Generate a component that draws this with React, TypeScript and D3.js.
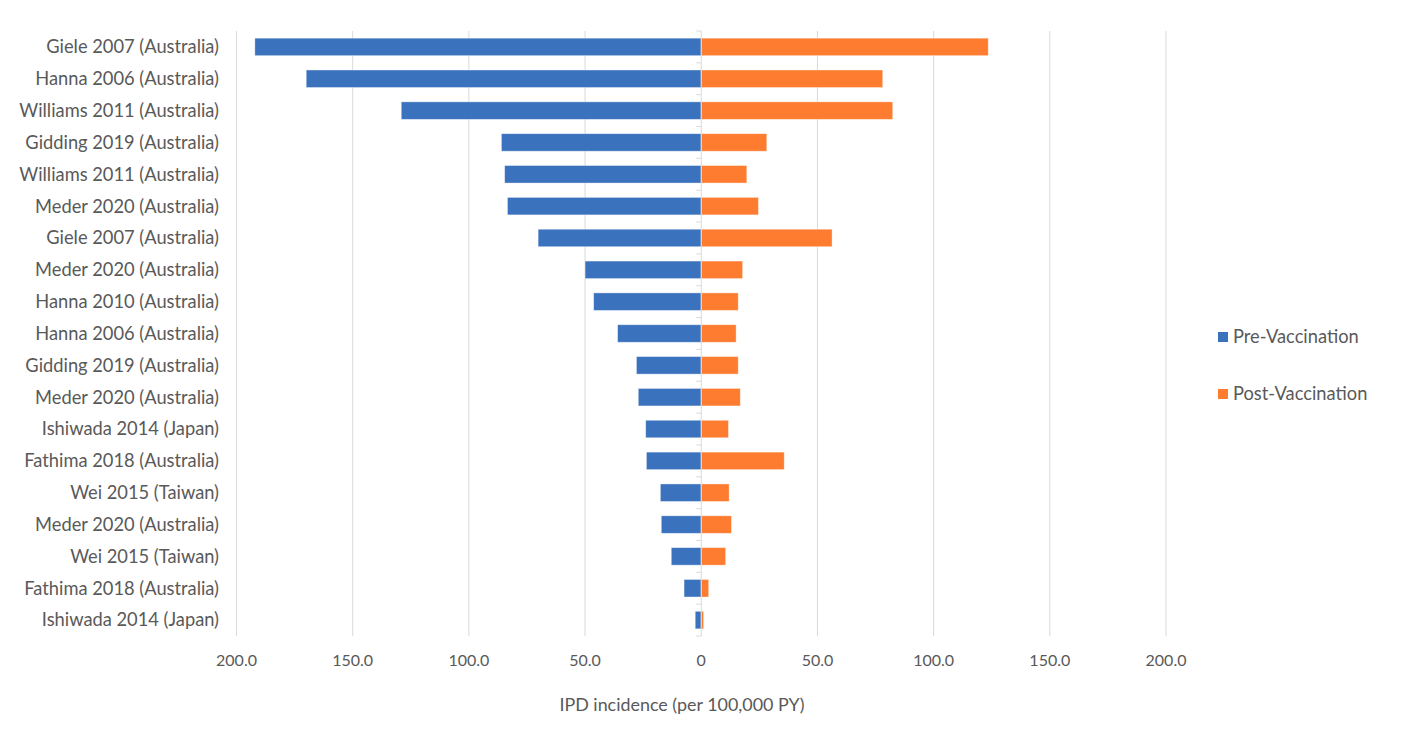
import React from "react";
import * as d3 from "d3";

const categories = [
  "Giele 2007 (Australia)",
  "Hanna 2006 (Australia)",
  "Williams 2011 (Australia)",
  "Gidding 2019 (Australia)",
  "Williams 2011 (Australia)",
  "Meder 2020 (Australia)",
  "Giele 2007 (Australia)",
  "Meder 2020 (Australia)",
  "Hanna 2010 (Australia)",
  "Hanna 2006 (Australia)",
  "Gidding 2019 (Australia)",
  "Meder 2020 (Australia)",
  "Ishiwada 2014 (Japan)",
  "Fathima 2018 (Australia)",
  "Wei 2015 (Taiwan)",
  "Meder 2020 (Australia)",
  "Wei 2015 (Taiwan)",
  "Fathima 2018 (Australia)",
  "Ishiwada 2014 (Japan)",
];

const preVaccination = [
  192.1, 170.0, 129.1, 86.0, 84.6, 83.4, 70.2, 50.0, 46.3, 36.0, 27.9, 27.1,
  23.9, 23.6, 17.6, 17.2, 12.9, 7.4, 2.6,
];

const postVaccination = [
  123.5, 78.1, 82.4, 28.2, 19.6, 24.6, 56.3, 17.8, 15.9, 15.0, 15.9, 16.8,
  11.7, 35.7, 12.0, 13.0, 10.5, 3.2, 1.0,
];

const tickValues = [-200, -150, -100, -50, 0, 50, 100, 150, 200];
const tickLabels = ["200.0", "150.0", "100.0", "50.0", "0", "50.0", "100.0", "150.0", "200.0"];

const seriesNames = ["Pre-Vaccination", "Post-Vaccination"];
const seriesColors = ["#3b72be", "#fd7c30"];

const W = 1422;
const H = 740;
const FONT = "Lato, 'Open Sans', sans-serif";
const TEXT = "#595959";
const GRID = "#d9d9d9";

export default function App() {
  const left = 236.5;
  const right = 1166;
  const top = 31;
  const bottom = 636;

  const x = d3.scaleLinear().domain([-200, 200]).range([left, right]);
  const idx = categories.map((_, i) => String(i));
  const y = d3.scaleBand().domain(idx).range([top, bottom]).paddingInner(0.45).paddingOuter(0.225);
  const yb = d3.scaleBand().domain(idx).range([top, bottom]);
  const x0 = x(0);

  return (
    <svg
      width={W}
      height={H}
      style={{ position: "absolute", left: 0, top: 0, background: "#fff" }}
      fontFamily={FONT}
    >
      {tickValues.map((t, i) =>
        t === 0 ? null : (
          <line key={"g" + i} x1={x(t)} x2={x(t)} y1={top} y2={bottom} stroke={GRID} strokeWidth={1} />
        )
      )}
      {preVaccination.map((v, i) => (
        <rect
          key={"p" + i}
          x={x(-v)}
          y={y(String(i))}
          width={x0 - x(-v)}
          height={y.bandwidth()}
          fill={seriesColors[0]}
          stroke="#ffffff"
          strokeOpacity={0.5}
          strokeWidth={0.75}
        />
      ))}
      {postVaccination.map((v, i) => (
        <rect
          key={"q" + i}
          x={x0}
          y={y(String(i))}
          width={x(v) - x0}
          height={y.bandwidth()}
          fill={seriesColors[1]}
          stroke="#ffffff"
          strokeOpacity={0.5}
          strokeWidth={0.75}
        />
      ))}
      <line x1={x0} x2={x0} y1={top} y2={bottom} stroke={GRID} strokeWidth={1} />
      {d3.range(categories.length + 1).map((i) => {
        const yy = top + i * yb.step();
        return <line key={"t" + i} x1={x0 - 5} x2={x0} y1={yy} y2={yy} stroke={GRID} strokeWidth={1} />;
      })}
      {categories.map((c, i) => (
        <text
          key={"c" + i}
          x={219}
          y={(yb(String(i)) as number) + yb.bandwidth() / 2}
          dy="0.35em"
          textAnchor="end"
          fontSize={18.3}
          fill={TEXT}
        >
          {c}
        </text>
      ))}
      {tickValues.map((t, i) => (
        <text key={"l" + i} x={x(t)} y={660} dy="0.35em" textAnchor="middle" fontSize={16} fill={TEXT}>
          {tickLabels[i]}
        </text>
      ))}
      <text x={682} y={705} dy="0.35em" textAnchor="middle" fontSize={17.9} fill={TEXT}>
        IPD incidence (per 100,000 PY)
      </text>
      {seriesNames.map((s, i) => (
        <g key={"lg" + i} transform={`translate(1218, ${337 + i * 57})`}>
          <rect x={0} y={-5} width={10} height={10} fill={seriesColors[i]} />
          <text x={15} y={0} dy="0.35em" fontSize={18.3} fill={TEXT}>
            {s}
          </text>
        </g>
      ))}
    </svg>
  );
}
